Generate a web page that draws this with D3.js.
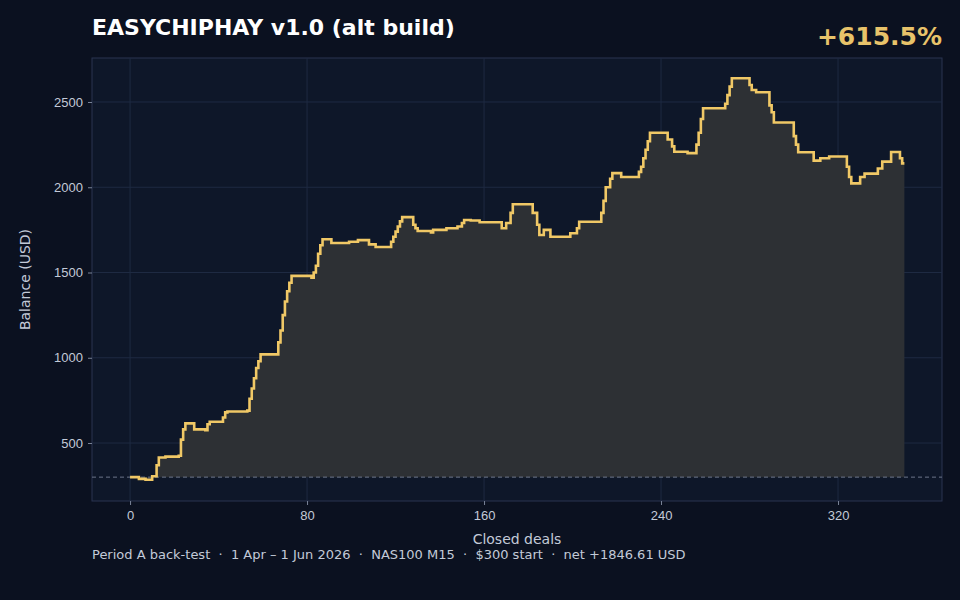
<!DOCTYPE html>
<html><head><meta charset="utf-8">
<script src="https://cdn.jsdelivr.net/npm/d3@7/dist/d3.min.js"></script>
<style>body{margin:0;background:#0b1120;}svg{display:block;font-family:"DejaVu Sans",sans-serif;}</style>
</head><body><svg id="c" width="960" height="600"></svg>
<script>
const deals = [
0,4,7,10,12,13,16,22,23,24,
25,29,34,35,36,42,43,44,53,54,
55,56,57,58,59,67,68,69,70,71,
72,73,82,83,84,85,86,87,91,99,
103,108,111,118,119,120,121,122,123,128,
129,130,136,137,143,148,150,151,154,158,
168,170,172,173,182,184,185,187,190,199,
202,203,213,214,215,217,218,222,230,231,
232,233,234,235,243,245,246,252,256,257,
258,259,269,270,271,272,280,281,283,289,
290,291,300,301,302,309,312,316,324,325,
326,330,332,338,340,344,348,349,350];
const balance = [
300,290,285,305,370,415,420,425,520,580,
615,580,575,610,625,650,680,685,690,760,
820,880,940,980,1020,1090,1160,1250,1330,1390,
1440,1480,1470,1500,1540,1610,1660,1695,1673,1680,
1690,1665,1650,1680,1710,1740,1770,1800,1825,1780,
1760,1743,1735,1750,1760,1770,1790,1808,1805,1795,
1760,1790,1850,1900,1850,1780,1720,1750,1710,1730,
1760,1798,1850,1920,2000,2050,2083,2060,2090,2120,
2170,2220,2270,2320,2280,2240,2208,2200,2250,2320,
2400,2463,2490,2540,2590,2639,2600,2570,2557,2480,
2440,2380,2300,2250,2205,2156,2170,2180,2120,2060,
2023,2060,2080,2110,2150,2207,2170,2140,2140];
const startBalance = 300;
const xTicks = [0,80,160,240,320];
const yTicks = [500,1000,1500,2000,2500];
const title = "EASYCHIPHAY v1.0 (alt build)";
const gain = "+615.5%";
const caption = "Period A back-test  ·  1 Apr – 1 Jun 2026  ·  NAS100 M15  ·  $300 start  ·  net +1846.61 USD";

const data = deals.map((d,i)=>({x:d,y:balance[i]}));
const svg = d3.select("#c");
const L=92,R=942,T=58,B=501;
svg.append("rect").attr("width",960).attr("height",600).attr("fill","#0b1120");
svg.append("rect").attr("x",L).attr("y",T).attr("width",R-L).attr("height",B-T).attr("fill","#0e1729").attr("stroke","#2a3550");
const x = d3.scaleLinear().domain([-17.2,367]).range([L,R]);
const y = d3.scaleLinear().domain([160,2758]).range([B,T]);
const g = svg.append("g");
g.selectAll(".gy").data(yTicks).join("line").attr("x1",L).attr("x2",R).attr("y1",d=>y(d)).attr("y2",d=>y(d)).attr("stroke","#1e2a42");
g.selectAll(".gx").data(xTicks).join("line").attr("y1",T).attr("y2",B).attr("x1",d=>x(d)).attr("x2",d=>x(d)).attr("stroke","#1e2a42");
svg.append("path").datum(data).attr("fill","#2d3034")
  .attr("d",d3.area().x(d=>x(d.x)).y0(y(startBalance)).y1(d=>y(d.y)).curve(d3.curveStepAfter));
svg.append("line").attr("x1",L).attr("x2",R).attr("y1",y(startBalance)).attr("y2",y(startBalance))
  .attr("stroke","#6b7589").attr("stroke-dasharray","4,3");
svg.append("path").datum(data).attr("fill","none").attr("stroke","#f0c866").attr("stroke-width",2.6)
  .attr("d",d3.line().x(d=>x(d.x)).y(d=>y(d.y)).curve(d3.curveStepAfter));
const ax = svg.append("g").attr("transform",`translate(0,${B})`).call(d3.axisBottom(x).tickValues(xTicks).tickFormat(d3.format("d")).tickSize(4).tickPadding(6));
const ay = svg.append("g").attr("transform",`translate(${L},0)`).call(d3.axisLeft(y).tickValues(yTicks).tickFormat(d3.format("d")).tickSize(4).tickPadding(5));
[ax,ay].forEach(a=>{a.select(".domain").remove();a.selectAll("line").attr("stroke","#7a8498");a.selectAll("text").attr("fill","#c3cad8").style("font-size","13px");});
svg.append("text").attr("x",(L+R)/2).attr("y",544).attr("text-anchor","middle").attr("fill","#c3cad8").style("font-size","14px").text("Closed deals");
svg.append("text").attr("transform",`translate(30,${(T+B)/2}) rotate(-90)`).attr("text-anchor","middle").attr("fill","#c3cad8").style("font-size","14px").text("Balance (USD)");
svg.append("text").attr("x",92).attr("y",35).attr("fill","#ffffff").style("font-size","22px").style("font-weight","bold").text(title);
svg.append("text").attr("x",942).attr("y",45).attr("text-anchor","end").attr("fill","#e8c36a").style("font-size","25px").style("font-weight","bold").text(gain);
svg.append("text").attr("x",92).attr("y",559).attr("fill","#c3cad8").style("font-size","13px").style("white-space","pre").text(caption);
</script></body></html>
